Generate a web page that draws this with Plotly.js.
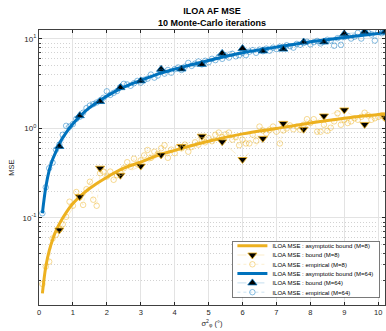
<!DOCTYPE html>
<html><head><meta charset="utf-8">
<script src="https://cdn.plot.ly/plotly-3.0.1.min.js"></script>
<style>html,body{margin:0;padding:0;background:#fff}</style>
</head><body><div id="chart" style="width:386px;height:331px"></div>
<script>
// asymptotic bound curves
const xAsym = [0.1,0.2,0.3,0.4,0.5,0.6,0.8,1,1.25,1.5,2,2.5,3,3.5,4,5,6,7,8,9,10,10.2];
const asym8 = [0.0144,0.0286,0.043,0.057,0.072,0.086,0.115,0.145,0.18,0.215,0.285,0.36,0.42,0.5,0.57,0.72,0.87,1.0,1.15,1.3,1.43,1.46];
const asym64 = [0.113,0.22,0.34,0.45,0.55,0.68,0.9,1.13,1.42,1.72,2.3,2.9,3.45,4.05,4.6,5.75,7.0,8.1,9.3,10.4,11.5,11.7];
// bound markers
const xBound = [0.6,1.2,1.8,2.4,3.0,3.6,4.2,4.8,5.4,6.0,6.6,7.2,7.8,8.4,9.0,9.6,10.2];
const bound8 = [0.0735,0.173,0.36,0.30,0.38,0.506,0.63,0.82,0.71,0.45,0.775,1.14,0.98,1.38,1.61,1.11,1.33];
const bound64 = [0.63,1.39,2.0,2.86,3.4,4.58,4.62,5.2,6.9,7.8,7.35,7.7,9.25,9.25,11.4,12.0,12.0];
// empirical
const xEmp = [0.1,0.2,0.3,0.4,0.5,0.6,0.7,0.8,0.9,1.0,1.1,1.2,1.3,1.4,1.5,1.6,1.7,1.8,1.9,2.0,
  2.1,2.2,2.3,2.4,2.5,2.6,2.7,2.8,2.9,3.0,3.1,3.2,3.3,3.4,3.5,3.6,3.7,3.8,3.9,4.0,
  4.1,4.2,4.3,4.4,4.5,4.6,4.7,4.8,4.9,5.0,5.1,5.2,5.3,5.4,5.5,5.6,5.7,5.8,5.9,6.0,
  6.1,6.2,6.3,6.4,6.5,6.6,6.7,6.8,6.9,7.0,7.1,7.2,7.3,7.4,7.5,7.6,7.7,7.8,7.9,8.0,
  8.1,8.2,8.3,8.4,8.5,8.6,8.7,8.8,8.9,9.0,9.1,9.2,9.3,9.4,9.5,9.6,9.7,9.8,9.9,10.0,10.1,10.2];
const emp8 = [0.0183,0.0286,0.0325,0.059,0.065,0.075,0.085,0.103,0.152,0.137,0.195,0.17,0.14,0.21,0.254,0.16,0.137,0.316,0.33,0.29,
  0.33,0.267,0.30,0.32,0.36,0.42,0.375,0.46,0.40,0.44,0.50,0.575,0.47,0.55,0.52,0.60,0.65,0.47,0.58,0.53,
  0.62,0.60,0.66,0.55,0.62,0.70,0.66,0.74,0.70,0.78,0.72,0.85,0.90,0.80,0.86,0.90,0.75,0.80,0.65,0.75,
  0.68,0.68,0.85,0.73,1.05,0.95,0.88,0.97,1.05,0.92,0.68,0.95,1.0,1.08,0.98,1.05,0.97,1.1,1.27,1.15,
  1.27,0.92,0.92,1.1,0.94,1.02,1.2,1.48,1.1,1.25,1.15,1.2,1.3,1.25,1.35,1.5,1.4,1.25,1.3,1.35,1.4,1.3];
const emp64 = [0.113,0.22,0.36,0.415,0.58,0.66,0.85,1.07,1.05,1.12,1.28,1.35,1.50,1.69,1.80,1.87,1.95,2.05,2.20,2.60,
  2.37,2.50,2.62,2.90,3.15,3.10,3.00,3.20,3.40,3.25,3.50,3.60,4.00,3.70,3.90,4.30,4.10,4.50,4.20,4.60,
  4.80,4.50,4.90,5.40,5.00,5.30,5.60,5.20,5.70,5.50,6.00,5.80,6.30,6.00,6.50,6.20,6.80,6.40,6.60,7.00,
  6.60,7.20,7.50,7.00,7.60,7.30,7.80,7.40,8.00,7.70,8.20,8.00,8.50,8.30,8.00,8.80,8.60,9.00,9.30,8.70,
  9.20,9.50,8.90,9.40,9.80,9.60,8.40,10.2,8.60,10.5,10.8,10.1,10.6,11.7,10.1,12.5,11.8,11.2,9.60,12.0,11.6,11.9];
const names = ['ILOA MSE : asymptotic bound (M=8)','ILOA MSE : bound (M=8)','ILOA MSE : empirical (M=8)',
  'ILOA MSE : asymptotic bound (M=64)','ILOA MSE : bound (M=64)','ILOA MSE : empirical (M=64)'];
const xTicks = [0,1,2,3,4,5,6,7,8,9,10];
const yTicks = [0.1,1,10];
const yTickText = ['10<sup>-1</sup>','10<sup>0</sup>','10<sup>1</sup>'];
const yMinor = [0.02,0.03,0.04,0.05,0.06,0.07,0.08,0.09,0.2,0.3,0.4,0.5,0.6,0.7,0.8,0.9,2,3,4,5,6,7,8,9];

const Y = '#EDB120', B = '#0072BD';
const data = [
  {x:xAsym, y:asym8, name:names[0], mode:'lines', line:{color:Y, width:3, shape:'spline'}},
  {x:xBound, y:bound8, name:names[1], mode:'lines+markers', line:{color:'rgba(237,177,32,0.4)', width:0.6, dash:'dash'},
    marker:{symbol:'triangle-down', size:8, color:'#000', line:{color:Y, width:0.8}}},
  {x:xEmp, y:emp8, name:names[2], mode:'lines+markers', line:{color:'rgba(237,177,32,0.35)', width:0.6, dash:'dot'},
    marker:{symbol:'circle-open', size:5.5, color:'rgba(237,177,32,0.6)', line:{width:0.8}}},
  {x:xAsym, y:asym64, name:names[3], mode:'lines', line:{color:B, width:3, shape:'spline'}},
  {x:xBound, y:bound64, name:names[4], mode:'lines+markers', line:{color:'rgba(0,114,189,0.4)', width:0.6, dash:'dash'},
    marker:{symbol:'triangle-up', size:8, color:'#000', line:{color:B, width:0.8}}},
  {x:xEmp, y:emp64, name:names[5], mode:'lines+markers', line:{color:'rgba(0,114,189,0.35)', width:0.6, dash:'dot'},
    marker:{symbol:'circle-open', size:5.5, color:'rgba(0,114,189,0.6)', line:{width:0.8}}}
];
const F = 'Liberation Sans, Arial, sans-serif';
const layout = {
  width:386, height:331,
  margin:{l:39, r:1, t:30, b:26},
  paper_bgcolor:'#fff', plot_bgcolor:'#fff',
  font:{family:F, size:7, color:'#262626'},
  title:{text:'<b>ILOA AF MSE</b><br><b>10 Monte-Carlo iterations</b>', font:{family:F, size:9, color:'#000'},
    x:0.5, xref:'paper', xanchor:'center', y:0.958, yref:'container', yanchor:'top'},
  xaxis:{range:[0,10.2], tickmode:'array', tickvals:xTicks, ticks:'inside', ticklen:3, tickcolor:'#262626',
    showgrid:true, gridcolor:'#e3e3e3', gridwidth:1, zeroline:false,
    showline:true, linecolor:'#404040', linewidth:1, mirror:'ticks',
    tickfont:{size:7.5}, title:{text:'σ<sup>2</sup><sub>φ</sub> (°)', font:{size:7.5}, standoff:4}},
  yaxis:{type:'log', range:[-1.972,1.1], tickmode:'array', tickvals:yTicks, ticktext:yTickText,
    ticks:'inside', ticklen:3, tickcolor:'#262626',
    showgrid:true, gridcolor:'#e3e3e3', gridwidth:1, zeroline:false,
    showline:true, linecolor:'#404040', linewidth:1, mirror:'ticks',
    minor:{tickmode:'array', tickvals:yMinor, ticks:'inside', ticklen:2, tickcolor:'#404040', showgrid:true, gridcolor:'#d2d2d2', griddash:'1px,2px', gridwidth:1},
    tickfont:{size:8}, title:{text:'MSE', font:{size:7.5}, standoff:6}},
  showlegend:true,
  legend:{x:1, xanchor:'right', y:0, yanchor:'bottom', bgcolor:'#fff', bordercolor:'#404040', borderwidth:0.7,
    font:{family:F, size:6, color:'#000'}, itemwidth:30, tracegroupgap:0}
};
Plotly.newPlot('chart', data, layout, {staticPlot:true, displayModeBar:false}).then(gd => {
  const leg = gd.querySelector('.legend');
  if (!leg) return;
  const items = leg.querySelectorAll('.traces');
  const step = 9.3, top = 4.8;
  items.forEach((g, i) => {
    const m = /translate\(\s*([-\d.e]+)[\s,]+([-\d.e]+)\s*\)/.exec(g.getAttribute('transform') || '');
    const x0 = m ? m[1] : 0;
    g.setAttribute('transform', 'translate(' + x0 + ',' + (top + i * step) + ')');
  });
  const h = top * 2 + (items.length - 1) * step;
  const bg = leg.querySelector('rect.bg');
  const w = +bg.getAttribute('width');
  bg.setAttribute('height', h);
  leg.setAttribute('transform', 'translate(' + (379 - w) + ',' + (297 - h) + ')');
});
</script></body></html>
